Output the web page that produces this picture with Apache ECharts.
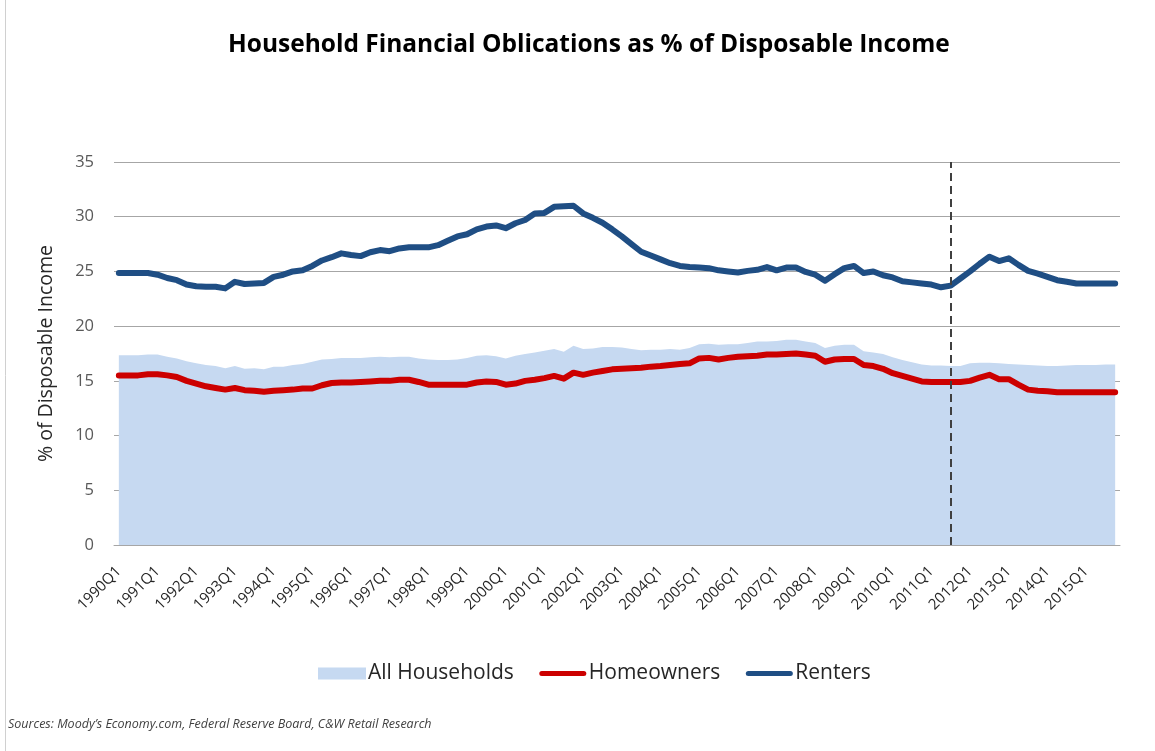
<!DOCTYPE html>
<html>
<head>
<meta charset="utf-8">
<script src="https://cdn.jsdelivr.net/npm/echarts@6/dist/echarts.min.js"></script>
<style>
html,body{margin:0;padding:0;background:#fff;}
#chart{width:1155px;height:751px;}
</style>
</head>
<body>
<div id="chart"></div>
<script>
// Quarters 1990Q1 .. 2015Q4
const startYear = 1990, endYear = 2015;
const quarters = [];
for (let y = startYear; y <= endYear; y++) for (let q = 1; q <= 4; q++) quarters.push(y + 'Q' + q);

const allHouseholds = [
17.35,17.35,17.35,17.4,17.4,17.2,17.05,16.8,16.6,16.45,16.35,16.15,16.35,16.1,16.15,16.05,
16.3,16.3,16.45,16.55,16.75,16.95,17.0,17.1,17.1,17.1,17.15,17.2,17.15,17.2,17.2,17.05,
16.95,16.9,16.9,16.95,17.1,17.3,17.35,17.25,17.05,17.3,17.45,17.6,17.75,17.9,17.65,18.2,
17.9,17.95,18.1,18.1,18.05,17.9,17.8,17.85,17.85,17.9,17.85,18.0,18.35,18.4,18.3,18.35,
18.35,18.45,18.6,18.6,18.65,18.75,18.75,18.6,18.45,18.0,18.2,18.3,18.3,17.7,17.6,17.45,
17.15,16.9,16.7,16.5,16.4,16.4,16.35,16.35,16.6,16.65,16.65,16.6,16.55,16.5,16.45,16.4,
16.35,16.35,16.4,16.45,16.45,16.45,16.5,16.5
];

const homeowners = [
15.5,15.5,15.5,15.6,15.6,15.5,15.35,15.0,14.75,14.5,14.35,14.2,14.35,14.15,14.1,14.0,
14.1,14.15,14.2,14.3,14.3,14.6,14.8,14.85,14.85,14.9,14.95,15.0,15.0,15.1,15.1,14.9,
14.65,14.65,14.65,14.65,14.65,14.85,14.95,14.9,14.65,14.75,15.0,15.1,15.25,15.45,15.2,15.75,
15.55,15.75,15.9,16.05,16.1,16.15,16.2,16.3,16.35,16.45,16.55,16.6,17.05,17.1,16.95,17.1,
17.2,17.25,17.3,17.4,17.4,17.45,17.5,17.4,17.3,16.75,16.95,17.0,17.0,16.45,16.35,16.1,
15.7,15.45,15.2,14.95,14.9,14.9,14.9,14.9,15.0,15.3,15.55,15.15,15.15,14.65,14.2,14.1,
14.05,13.95,13.95,13.95,13.95,13.95,13.95,13.95
];

const renters = [
24.85,24.85,24.85,24.85,24.7,24.4,24.2,23.8,23.65,23.6,23.6,23.45,24.05,23.85,23.9,23.95,
24.5,24.7,25.0,25.1,25.5,26.0,26.3,26.65,26.5,26.4,26.75,26.95,26.85,27.1,27.2,27.2,
27.2,27.4,27.8,28.2,28.4,28.85,29.1,29.2,28.95,29.4,29.7,30.3,30.35,30.9,30.95,31.0,
30.3,29.9,29.45,28.85,28.2,27.5,26.8,26.45,26.1,25.75,25.5,25.4,25.35,25.3,25.1,25.0,
24.9,25.05,25.15,25.4,25.1,25.35,25.35,24.95,24.7,24.15,24.75,25.3,25.5,24.85,25.0,24.65,
24.45,24.1,24.0,23.9,23.8,23.55,23.7,24.35,25.0,25.7,26.35,25.95,26.2,25.6,25.05,24.8,
24.5,24.2,24.05,23.9,23.9,23.9,23.9,23.9
];

const yTicks = [0, 35, 5]; // min, max, interval
const forecastStart = '2011Q3';

const FONT = '"Open Sans", "Noto Sans", sans-serif';
const LINE_ICON = 'path://M0,0 M3,3.5 L45,3.5 A2.5,2.5 0 0 1 45,8.5 L3,8.5 A2.5,2.5 0 0 1 3,3.5 Z M48,12';
const chart = echarts.init(document.getElementById('chart'), null, {renderer: 'canvas'});

chart.setOption({
  animation: false,
  backgroundColor: '#ffffff',
  title: {
    text: 'Household Financial Oblications as % of Disposable Income',
    left: 223,
    top: 28,
    textStyle: {fontFamily: FONT, fontSize: 24.5, fontWeight: 'bold', color: '#000000'}
  },
  grid: {left: 114, right: 35, top: 162, bottom: 206, containLabel: false},
  legend: {
    left: 313,
    top: 658,
    itemWidth: 48,
    itemHeight: 12,
    itemGap: 25,
    textStyle: {fontFamily: FONT, fontSize: 21, color: '#262626', padding: [0,0,0,-3]},
    data: [
      {name: 'All Households', icon: 'rect'},
      {name: 'Homeowners', icon: LINE_ICON},
      {name: 'Renters', icon: LINE_ICON}
    ]
  },
  xAxis: {
    type: 'category',
    data: quarters,
    boundaryGap: true,
    axisLine: {show: true, lineStyle: {color: '#a6a6a6', width: 1}},
    axisTick: {show: false},
    axisLabel: {
      interval: 3,
      rotate: 45,
      margin: 24,
      fontFamily: FONT,
      fontSize: 15,
      color: '#262626'
    },
    splitLine: {show: false}
  },
  yAxis: {
    type: 'value',
    min: yTicks[0],
    max: yTicks[1],
    interval: yTicks[2],
    name: '% of Disposable Income',
    nameLocation: 'middle',
    nameGap: 58,
    nameTextStyle: {fontFamily: FONT, fontSize: 19.5, color: '#262626'},
    axisLine: {show: false},
    axisTick: {show: false},
    axisLabel: {fontFamily: FONT, fontSize: 16.5, color: '#595959', margin: 20},
    splitLine: {show: true, lineStyle: {color: '#a6a6a6', width: 1}}
  },
  series: [
    {
      name: 'All Households',
      type: 'line',
      data: allHouseholds,
      symbol: 'none',
      lineStyle: {width: 0},
      itemStyle: {color: '#c6d9f1'},
      areaStyle: {color: '#c6d9f1', opacity: 1},
      z: 1
    },
    {
      name: 'Homeowners',
      type: 'line',
      data: homeowners,
      symbol: 'none',
      lineStyle: {width: 6, color: '#cc0000', cap: 'round', join: 'round'},
      itemStyle: {color: '#cc0000'},
      z: 3
    },
    {
      name: 'Renters',
      type: 'line',
      data: renters,
      symbol: 'none',
      lineStyle: {width: 6, color: '#1f4e84', cap: 'round', join: 'round'},
      itemStyle: {color: '#1f4e84'},
      z: 4,
      markLine: {
        silent: true,
        symbol: ['none', 'none'],
        label: {show: false},
        lineStyle: {color: '#404040', width: 2, type: [8, 5]},
        data: [{xAxis: forecastStart}]
      }
    }
  ],
  graphic: [
    {
      type: 'text',
      left: 990,
      top: 433,
      style: {text: 'Forecast', fontFamily: FONT, fontSize: 22, fontStyle: 'italic', fill: '#595959'}
    },
    {
      type: 'text',
      left: 8,
      top: 718,
      style: {text: 'Sources: Moody\u2019s Economy.com, Federal Reserve Board, C&W Retail Research', fontFamily: FONT, fontSize: 12.5, fontStyle: 'italic', fill: '#404040'}
    },
    {
      type: 'line',
      shape: {x1: 5.5, y1: 0, x2: 5.5, y2: 751},
      style: {stroke: '#d0d0d0', lineWidth: 1}
    }
  ]
});
</script>
</body>
</html>
